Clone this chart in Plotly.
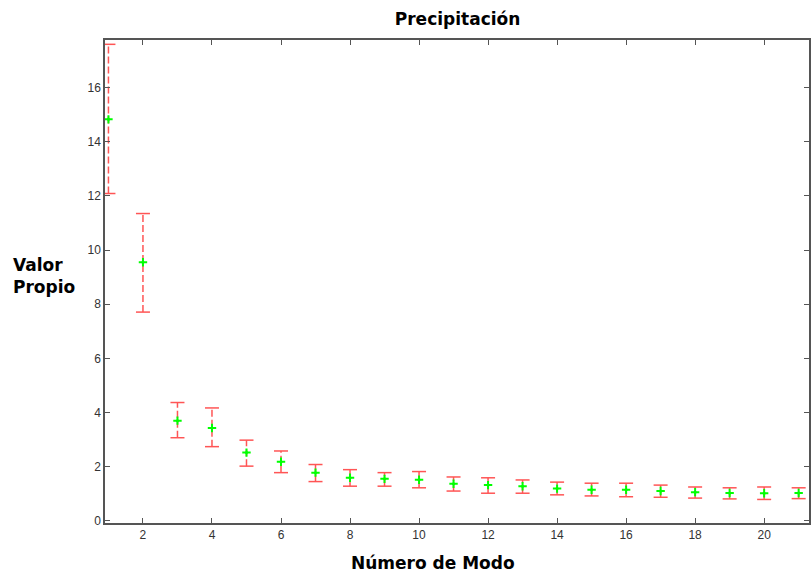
import plotly.graph_objects as go

modes = list(range(1, 22))
values = [14.83, 9.55, 3.70, 3.43, 2.52, 2.18, 1.78, 1.59, 1.55, 1.52, 1.37,
          1.32, 1.28, 1.19, 1.15, 1.15, 1.10, 1.06, 1.03, 1.02, 1.03]
upper = [17.60, 11.35, 4.37, 4.17, 2.98, 2.58, 2.08, 1.89, 1.78, 1.82, 1.62,
         1.59, 1.51, 1.43, 1.39, 1.39, 1.32, 1.25, 1.22, 1.25, 1.22]
lower = [12.09, 7.71, 3.07, 2.74, 2.02, 1.78, 1.45, 1.28, 1.28, 1.22, 1.10,
         1.02, 1.02, 0.96, 0.92, 0.89, 0.87, 0.84, 0.81, 0.79, 0.82]
x_ticks = list(range(2, 21, 2))
y_ticks = list(range(0, 17, 2))

red = "#ff5555"
green = "#00ff00"

seg_x, seg_y = [], []
for xi, lo, hi in zip(modes, lower, upper):
    seg_x += [xi, xi, None]
    seg_y += [lo, hi, None]

fig = go.Figure()
fig.add_trace(go.Scatter(x=seg_x, y=seg_y, mode="lines",
                         line=dict(color=red, width=1.5, dash="7px,3px"),
                         hoverinfo="skip", showlegend=False))
fig.add_trace(go.Scatter(x=modes + modes, y=upper + lower, mode="markers",
                         marker=dict(symbol="line-ew", size=10,
                                     line=dict(color=red, width=1.5)),
                         showlegend=False))
fig.add_trace(go.Scatter(x=modes, y=values, mode="markers",
                         marker=dict(symbol="cross-thin", size=6,
                                     line=dict(color=green, width=2)),
                         showlegend=False))
fig.add_trace(go.Scatter(x=modes, y=values, mode="markers",
                         marker=dict(symbol="circle", size=3, color=green),
                         showlegend=False))

axis_common = dict(showgrid=False, zeroline=False, showline=True,
                   linecolor="#555555", linewidth=1.5, mirror="ticks",
                   ticks="inside", ticklen=5, tickwidth=1.2, tickcolor="#555555",
                   tickfont=dict(family="Liberation Sans, Arial", size=12, color="#333333"))

bold_font = dict(family="DejaVu Sans", size=17, color="black")

fig.update_layout(
    width=812, height=574,
    margin=dict(l=105, r=1, t=40, b=51),
    paper_bgcolor="white", plot_bgcolor="white",
    title=dict(text="<b>Precipitación</b>", x=0.5635, xanchor="center",
               y=0.966, yanchor="middle", font=bold_font),
    xaxis=dict(range=[0.9, 21.3], tickvals=x_ticks, **axis_common),
    yaxis=dict(range=[-0.08, 17.76], tickvals=y_ticks, **axis_common),
    annotations=[
        dict(text="<b>Número de Modo</b>", xref="paper", yref="paper",
             x=0.466, y=-0.082, xanchor="center", yanchor="middle", showarrow=False,
             font=bold_font),
        dict(text="<b>Valor<br>Propio</b>", xref="paper", yref="paper",
             x=-0.134, y=0.511, xanchor="left", yanchor="middle", showarrow=False,
             align="left", font=bold_font),
    ],
)

fig.write_html("out.html")
